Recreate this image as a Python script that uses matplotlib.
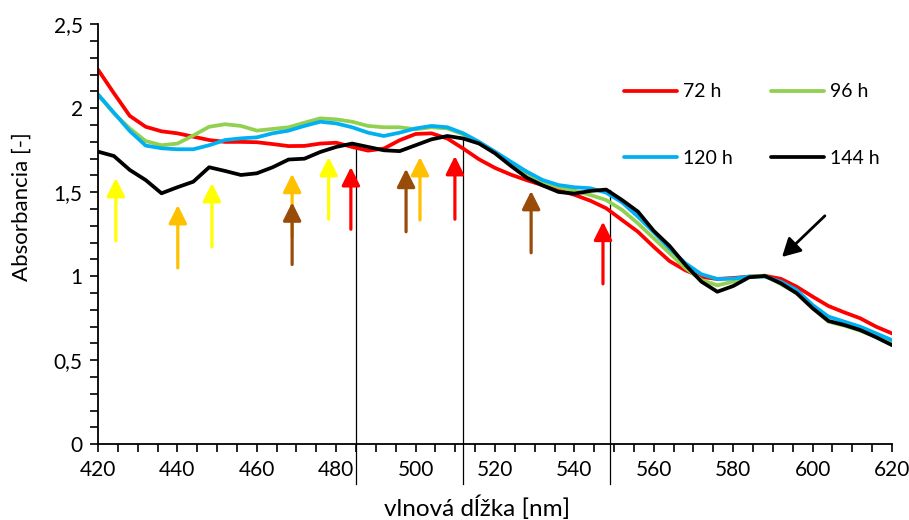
import matplotlib
matplotlib.use("Agg")
import matplotlib.pyplot as plt
from matplotlib.ticker import MultipleLocator, FuncFormatter

plt.rcParams['font.family'] = ['Lato', 'DejaVu Sans']

wavelength = list(range(420, 621, 4))

abs_72h = [2.23, 2.09, 1.955, 1.89, 1.863, 1.851, 1.831, 1.811, 1.80, 1.80, 1.798, 1.787,
           1.775, 1.776, 1.79, 1.795, 1.77, 1.748, 1.76, 1.81, 1.847, 1.851, 1.82, 1.76,
           1.696, 1.645, 1.605, 1.572, 1.542, 1.512, 1.485, 1.45, 1.405, 1.335, 1.265, 1.175,
           1.09, 1.035, 0.996, 0.984, 0.99, 0.998, 1.003, 0.985, 0.938, 0.879, 0.823, 0.785,
           0.75, 0.70, 0.66]
abs_96h = [2.08, 1.97, 1.88, 1.805, 1.78, 1.79, 1.838, 1.89, 1.905, 1.895, 1.867, 1.877,
           1.887, 1.914, 1.94, 1.934, 1.92, 1.895, 1.887, 1.887, 1.875, 1.887, 1.88, 1.845,
           1.795, 1.736, 1.673, 1.613, 1.563, 1.53, 1.51, 1.484, 1.454, 1.395, 1.315, 1.226,
           1.137, 1.048, 0.978, 0.946, 0.968, 0.998, 1.004, 0.954, 0.899, 0.81, 0.73, 0.706,
           0.676, 0.64, 0.60]
abs_120h = [2.083, 1.974, 1.865, 1.778, 1.762, 1.756, 1.756, 1.78, 1.811, 1.821, 1.827, 1.851,
            1.867, 1.895, 1.92, 1.91, 1.887, 1.855, 1.835, 1.855, 1.88, 1.895, 1.887, 1.851,
            1.80, 1.742, 1.682, 1.623, 1.573, 1.543, 1.53, 1.524, 1.498, 1.44, 1.355, 1.262,
            1.165, 1.077, 1.012, 0.984, 0.986, 0.998, 0.998, 0.968, 0.918, 0.829, 0.76, 0.73,
            0.70, 0.66, 0.62]
abs_144h = [1.742, 1.716, 1.633, 1.573, 1.494, 1.53, 1.563, 1.649, 1.627, 1.603, 1.613, 1.649,
            1.695, 1.70, 1.74, 1.77, 1.79, 1.77, 1.75, 1.745, 1.78, 1.815, 1.835, 1.82,
            1.79, 1.732, 1.657, 1.587, 1.541, 1.502, 1.492, 1.508, 1.516, 1.454, 1.385, 1.27,
            1.18, 1.067, 0.968, 0.908, 0.942, 0.994, 1.002, 0.958, 0.899, 0.81, 0.734, 0.71,
            0.68, 0.637, 0.59]

series_labels = ['72 h', '96 h', '120 h', '144 h']
series_colors = ['#FF0000', '#92D050', '#00B0F0', '#000000']

# vertical marker lines (wavelength, top value)
marker_x = [485, 512, 549]
marker_top = [1.79, 1.82, 1.515]

# coloured arrows: x, tip, tail, colour
arrow_x = [424.5, 440.1, 448.7, 468.9, 468.9, 478.1, 483.7, 497.6, 501.1, 509.9, 529.1, 547.2]
arrow_tip = [1.585, 1.424, 1.555, 1.61, 1.44, 1.71, 1.65, 1.64, 1.71, 1.716, 1.508, 1.325]
arrow_tail = [1.21, 1.05, 1.175, 1.235, 1.07, 1.34, 1.28, 1.265, 1.335, 1.34, 1.14, 0.955]
arrow_colors = ['#FFFF00', '#FFC000', '#FFFF00', '#FFC000', '#994C0A', '#FFFF00', '#FF0000',
                '#994C0A', '#FFC000', '#FF0000', '#994C0A', '#FF0000']

black_arrow_tail = (603.1, 1.36)
black_arrow_tip = (592.3, 1.115)

fig = plt.figure(figsize=(9.09, 5.2), dpi=100)
ax = fig.add_axes([0.1078, 0.1456, 0.8735, 0.8077])

handles = []
for vals, lab, col in zip([abs_72h, abs_96h, abs_120h, abs_144h], series_labels, series_colors):
    h, = ax.plot(wavelength, vals, color=col, lw=2.7, label=lab,
                 solid_capstyle='round', solid_joinstyle='round')
    handles.append(h)

for mx, mt in zip(marker_x, marker_top):
    ax.plot([mx, mx], [-0.235, mt], color='black', lw=0.9, clip_on=False, zorder=1)

for x, tip, tail, c in zip(arrow_x, arrow_tip, arrow_tail, arrow_colors):
    ax.annotate('', xy=(x, tip), xytext=(x, tail),
                arrowprops=dict(arrowstyle='-|>,head_length=1.1,head_width=0.55',
                                color=c, lw=2.3, shrinkA=0, shrinkB=0, mutation_scale=10))

ax.annotate('', xy=black_arrow_tip, xytext=black_arrow_tail,
            arrowprops=dict(arrowstyle='-|>,head_length=1.1,head_width=0.6',
                            color='black', lw=2.0, shrinkA=0, shrinkB=0, mutation_scale=10))

ax.set_xlim(420, 620)
ax.set_ylim(0, 2.5)
ax.xaxis.set_major_locator(MultipleLocator(20))
ax.xaxis.set_minor_locator(MultipleLocator(5))
ax.yaxis.set_major_locator(MultipleLocator(0.5))
ax.yaxis.set_minor_locator(MultipleLocator(0.1))

def ytick_fmt(v, pos):
    s = ('%g' % round(v, 2))
    return s.replace('.', ',')

ax.yaxis.set_major_formatter(FuncFormatter(ytick_fmt))

for s in ['top', 'right']:
    ax.spines[s].set_visible(False)
for s in ['left', 'bottom']:
    ax.spines[s].set_linewidth(1.3)
    ax.spines[s].set_color('black')

ax.tick_params(axis='both', which='both', direction='out', length=6, width=1.2,
               labelsize=15, colors='black')
ax.tick_params(axis='x', pad=5)
ax.tick_params(axis='y', pad=5)

ax.set_xlabel('vlnová dĺžka [nm]', fontsize=17.5)
ax.xaxis.set_label_coords((477 - 98) / 794, -(508 - 444.3) / 420, transform=ax.transAxes)
ax.xaxis.label.set_va('center')
ax.set_ylabel('Absorbancia [-]', fontsize=16)
ax.yaxis.set_label_coords(-(98 - 22) / 794, (444.3 - 207) / 420, transform=ax.transAxes)
ax.yaxis.label.set_va('center')

leg_handles = [handles[0], handles[2], handles[1], handles[3]]
leg_labels = [series_labels[0], series_labels[2], series_labels[1], series_labels[3]]
ax.legend(leg_handles, leg_labels, ncol=2, frameon=False, fontsize=14,
          loc='upper left', bbox_to_anchor=(0.641, 0.901), handlelength=2.7,
          handletextpad=0.3, columnspacing=2.0, labelspacing=2.55, borderpad=0.4)

fig.savefig('out.png', dpi=100)
